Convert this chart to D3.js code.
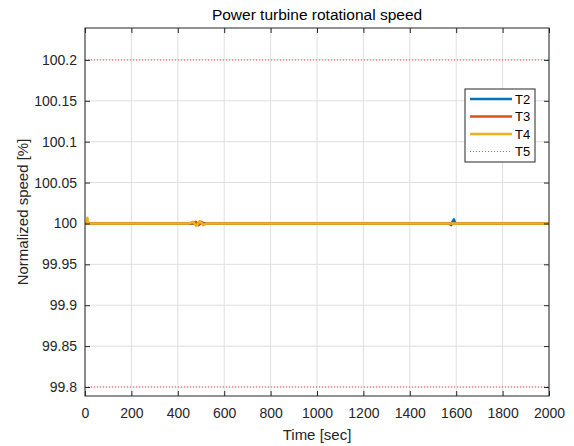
<!DOCTYPE html>
<html>
<head>
<meta charset="utf-8">
<script src="https://cdn.jsdelivr.net/npm/d3@7"></script>
<style>
  body { margin: 0; background: #fff; }
  text { font-family: "Liberation Sans", Arial, sans-serif; }
</style>
</head>
<body>
<div id="chart"></div>
<script>
// data
var xTicks = [0, 200, 400, 600, 800, 1000, 1200, 1400, 1600, 1800, 2000];
var yTicks = [99.8, 99.85, 99.9, 99.95, 100, 100.05, 100.1, 100.15, 100.2];
var seriesNames = ["T2", "T3", "T4", "T5"];
var seriesColors = ["#0072BD", "#D95319", "#EDB120", "#ff0000"];

var t2 = [[0, 100], [1570, 100], [1578, 99.998], [1584, 100.002], [1590, 100.005], [1596, 100], [2000, 100]];
var t3 = [[0, 100], [465, 100], [478, 100.002], [490, 99.998], [502, 100.002], [512, 100], [2000, 100]];
var t4 = [[0, 100], [8, 100], [10, 100.007], [13, 100], [445, 100], [465, 100.002], [480, 99.997], [495, 100.003], [510, 99.998], [525, 100], [1100, 100], [2000, 100]];
var t5Levels = [100.2, 99.8];

var width = 574, height = 446,
    margin = {top: 28, right: 25, bottom: 50, left: 85};

var svg = d3.select("#chart").append("svg")
  .attr("width", width).attr("height", height);

var x = d3.scaleLinear().domain([0, 2000]).range([margin.left, width - margin.right]);
var y = d3.scaleLinear().domain([99.789, 100.239]).range([height - margin.bottom, margin.top]);

var x0 = x.range()[0], x1 = x.range()[1], y0 = y.range()[0], y1 = y.range()[1];

// grid
svg.append("g").selectAll("line").data(xTicks).enter().append("line")
  .attr("x1", function(d){ return x(d); }).attr("x2", function(d){ return x(d); })
  .attr("y1", y0).attr("y2", y1)
  .style("stroke", "#dfdfdf").style("stroke-width", 1);
svg.append("g").selectAll("line").data(yTicks).enter().append("line")
  .attr("y1", function(d){ return y(d); }).attr("y2", function(d){ return y(d); })
  .attr("x1", x0).attr("x2", x1)
  .style("stroke", "#dfdfdf").style("stroke-width", 1);

// T5 dotted limits
svg.append("g").selectAll("line").data(t5Levels).enter().append("line")
  .attr("x1", x0).attr("x2", x1)
  .attr("y1", function(d){ return y(d); }).attr("y2", function(d){ return y(d); })
  .style("stroke", seriesColors[3]).style("stroke-opacity", 0.7)
  .style("stroke-width", 1).style("stroke-dasharray", "1,2");

var line = d3.line().x(function(d){ return x(d[0]); }).y(function(d){ return y(d[1]); });
[[t2, 0], [t3, 1], [t4, 2]].forEach(function(s){
  svg.append("path").datum(s[0]).attr("d", line)
    .style("fill", "none").style("stroke", seriesColors[s[1]])
    .style("stroke-width", 2.5).style("stroke-linejoin", "round");
});

// axes
var fmt = function(d){ return String(+d.toFixed(2)); };
var xAxis = svg.append("g").attr("transform", "translate(0," + y0 + ")")
  .call(d3.axisBottom(x).tickValues(xTicks).tickSizeInner(-5).tickSizeOuter(0).tickPadding(12).tickFormat(d3.format("d")));
var xTop = svg.append("g").attr("transform", "translate(0," + y1 + ")")
  .call(d3.axisTop(x).tickValues(xTicks).tickSizeInner(-5).tickSizeOuter(0).tickFormat(""));
var yAxis = svg.append("g").attr("transform", "translate(" + x0 + ",0)")
  .call(d3.axisLeft(y).tickValues(yTicks).tickSizeInner(-5).tickSizeOuter(0).tickPadding(8).tickFormat(fmt));
var yRight = svg.append("g").attr("transform", "translate(" + x1 + ",0)")
  .call(d3.axisRight(y).tickValues(yTicks).tickSizeInner(-5).tickSizeOuter(0).tickFormat(""));

[xAxis, xTop, yAxis, yRight].forEach(function(g){
  g.select(".domain").remove();
  g.selectAll(".tick line").style("stroke", "#262626");
  g.selectAll("text").style("font-size", "14px").style("fill", "#262626")
    .style("font-family", "'Liberation Sans', Arial, sans-serif");
});

svg.append("rect").attr("x", x0).attr("y", y1).attr("width", x1 - x0).attr("height", y0 - y1)
  .style("fill", "none").style("stroke", "#262626").style("stroke-width", 1);

// labels
svg.append("text").attr("x", (x0 + x1) / 2).attr("y", 20).attr("text-anchor", "middle")
  .style("font-size", "15.5px").style("fill", "#000").text("Power turbine rotational speed");
svg.append("text").attr("x", (x0 + x1) / 2).attr("y", 440).attr("text-anchor", "middle")
  .style("font-size", "15px").style("fill", "#262626").text("Time [sec]");
svg.append("text").attr("transform", "translate(28," + ((y0 + y1) / 2) + ") rotate(-90)")
  .attr("text-anchor", "middle").style("font-size", "15px").style("fill", "#262626")
  .text("Normalized speed [%]");

// legend
var lg = svg.append("g").attr("transform", "translate(465,89)");
lg.append("rect").attr("width", 70).attr("height", 73)
  .style("fill", "#fff").style("stroke", "#262626").style("stroke-width", 1);
seriesNames.forEach(function(n, i){
  var yy = 10 + i * 17.5;
  lg.append("line").attr("x1", 5).attr("x2", 47).attr("y1", yy).attr("y2", yy)
    .style("stroke", seriesColors[i])
    .style("stroke-width", i < 3 ? 2.5 : 1)
    .style("stroke-opacity", i < 3 ? 1 : 0.7)
    .style("stroke-dasharray", i < 3 ? null : "1,2");
  lg.append("text").attr("x", 50).attr("y", yy + 4.5)
    .style("font-size", "13px").style("fill", "#000").text(n);
});
</script>
</body>
</html>
